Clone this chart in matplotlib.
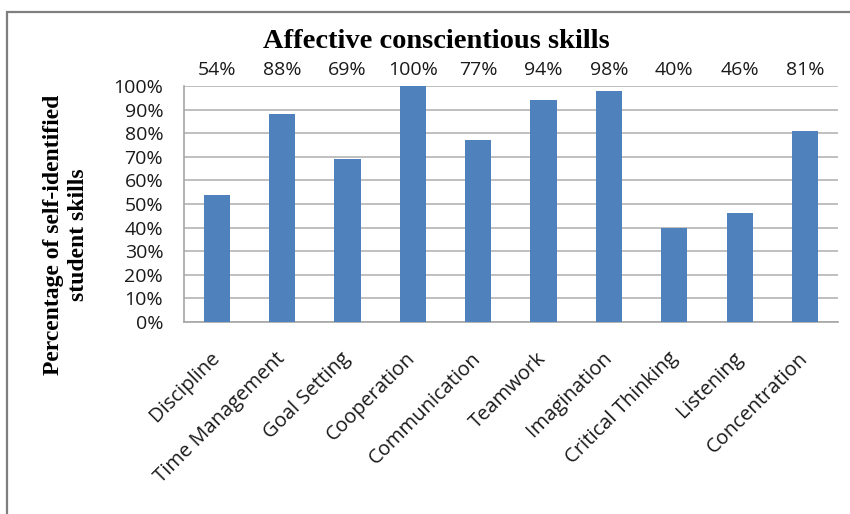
import matplotlib.pyplot as plt
from matplotlib.patches import Rectangle
from matplotlib.ticker import PercentFormatter

# --- Data ---
skills = ["Discipline", "Time Management", "Goal Setting", "Cooperation",
          "Communication", "Teamwork", "Imagination", "Critical Thinking",
          "Listening", "Concentration"]
percent = [54, 88, 69, 100, 77, 94, 98, 40, 46, 81]
y_ticks = [0, 10, 20, 30, 40, 50, 60, 70, 80, 90, 100]

BAR_COLOR = "#4f81bd"
SANS = ["Open Sans", "DejaVu Sans"]
SERIF = ["Liberation Serif", "DejaVu Serif"]
TXT = "#1a1a1a"

fig = plt.figure(figsize=(8.5, 5.14), dpi=100)
ax = fig.add_axes([0.2165, 0.3735, 0.769, 0.459])

x = range(len(skills))
ax.bar(x, percent, width=0.4, color=BAR_COLOR, zorder=3)

ax.set_xlim(-0.5, len(skills) - 0.5)
ax.set_ylim(0, 100)
ax.set_yticks(y_ticks)
ax.yaxis.set_major_formatter(PercentFormatter(decimals=0))
ax.grid(axis="y", color="#b4b4b4", linewidth=1.2, zorder=0)

for side in ["top", "right"]:
    ax.spines[side].set_visible(False)
for side in ["left", "bottom"]:
    ax.spines[side].set_color("#a6a6a6")
    ax.spines[side].set_linewidth(1.2)

ax.tick_params(axis="x", length=0, pad=24)
ax.tick_params(axis="y", length=0, pad=15)
ax.set_xticks(list(x))
ax.set_xticklabels(skills, rotation=45, ha="right", va="center",
                   rotation_mode="anchor", fontsize=14.5, family=SANS, color=TXT)
for lbl in ax.get_yticklabels():
    lbl.set_family(SANS)
    lbl.set_fontsize(14)
    lbl.set_color(TXT)

# value labels sit in one row above the plot
for i, v in enumerate(percent):
    ax.text(i, 1.068, f"{v}%", transform=ax.get_xaxis_transform(),
            ha="center", va="center", fontsize=14, family=SANS, color=TXT)

fig.text(0.513, 0.92, "Affective conscientious skills", ha="center", va="center",
         fontsize=20.5, fontweight="bold", family=SERIF)
fig.text(0.078, 0.543, "Percentage of self-identified\nstudent skills",
         rotation=90, ha="center", va="center", fontsize=17,
         fontweight="bold", family=SERIF, linespacing=1.25)

# frame around the chart (runs off the right and bottom edges)
fig.patches.append(Rectangle((7 / 850, -0.05), 1.0, 1.05 - 12 / 514,
                             transform=fig.transFigure, fill=False,
                             edgecolor="#7f7f7f", linewidth=1.6))

fig.savefig("out.png", dpi=100)
